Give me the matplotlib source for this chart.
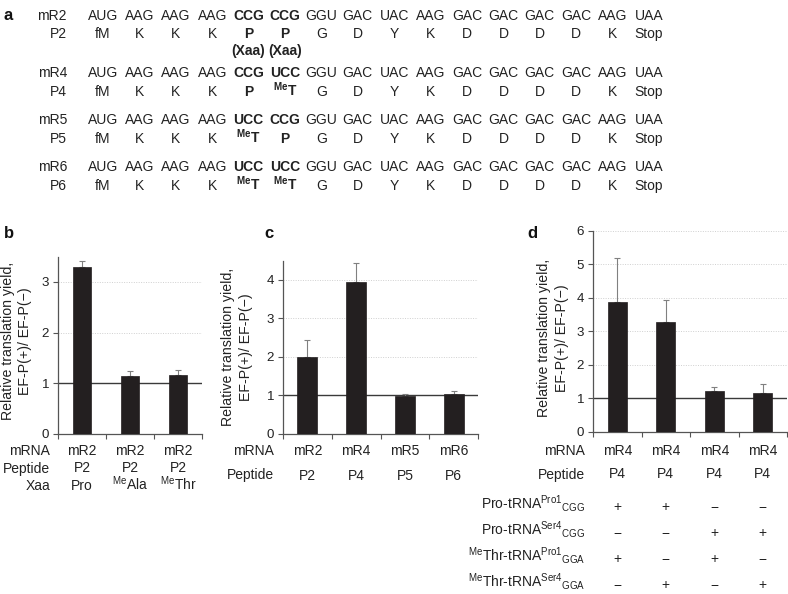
import matplotlib
matplotlib.use('Agg')
import matplotlib.pyplot as plt
import matplotlib.transforms as mtrans
import numpy as np

plt.rcParams['font.family'] = ['Liberation Sans', 'DejaVu Sans']
plt.rcParams['mathtext.fontset'] = 'custom'
plt.rcParams['mathtext.rm'] = 'Liberation Sans'
plt.rcParams['mathtext.bf'] = 'Liberation Sans:bold'
plt.rcParams['mathtext.it'] = 'Liberation Sans:italic'
plt.rcParams['mathtext.sf'] = 'Liberation Sans'

# ---------------- data ----------------
# panel a
seq_mrna = ['mR2', 'mR4', 'mR5', 'mR6']
seq_peptide = ['P2', 'P4', 'P5', 'P6']
codons_head = ['AUG', 'AAG', 'AAG', 'AAG']
codons_tail = ['GGU', 'GAC', 'UAC', 'AAG', 'GAC', 'GAC', 'GAC', 'GAC', 'AAG', 'UAA']
residues_head = ['fM', 'K', 'K', 'K']
residues_tail = ['G', 'D', 'Y', 'K', 'D', 'D', 'D', 'D', 'K', 'Stop']
var_codons = [['CCG', 'CCG'], ['CCG', 'UCC'], ['UCC', 'CCG'], ['UCC', 'UCC']]
var_residues = [['P', 'P'], ['P', 'MeT'], ['MeT', 'P'], ['MeT', 'MeT']]

# panel b
b_mrna = ['mR2', 'mR2', 'mR2']
b_peptide = ['P2', 'P2', 'P2']
b_xaa = ['Pro', 'MeAla', 'MeThr']
b_values = [3.30, 1.14, 1.17]
b_err = [0.12, 0.10, 0.09]
b_yticks = [0, 1, 2, 3]

# panel c
c_mrna = ['mR2', 'mR4', 'mR5', 'mR6']
c_peptide = ['P2', 'P4', 'P5', 'P6']
c_values = [1.99, 3.94, 0.98, 1.02]
c_err = [0.45, 0.49, 0.06, 0.09]
c_yticks = [0, 1, 2, 3, 4]

# panel d
d_mrna = ['mR4', 'mR4', 'mR4', 'mR4']
d_peptide = ['P4', 'P4', 'P4', 'P4']
d_values = [3.88, 3.27, 1.22, 1.16]
d_err = [1.30, 0.65, 0.11, 0.26]
d_yticks = [0, 1, 2, 3, 4, 5, 6]
d_trna_labels = [r'Pro-tRNA$^{\mathrm{Pro1}}{}_{\mathrm{CGG}}$',
                 r'Pro-tRNA$^{\mathrm{Ser4}}{}_{\mathrm{CGG}}$',
                 r'$^{\mathrm{Me}}$Thr-tRNA$^{\mathrm{Pro1}}{}_{\mathrm{GGA}}$',
                 r'$^{\mathrm{Me}}$Thr-tRNA$^{\mathrm{Ser4}}{}_{\mathrm{GGA}}$']
d_trna_signs = [['+', '+', '\u2212', '\u2212'],
                ['\u2212', '\u2212', '+', '+'],
                ['+', '\u2212', '+', '\u2212'],
                ['\u2212', '+', '\u2212', '+']]

ylabel_text = 'Relative translation yield,\nEF-P(+)/ EF-P(\u2212)'

# ---------------- style ----------------
W, H = 788, 594
TXT = '#222222'
BAR = '#231f20'
ERR = '#808080'
SPINE = '#555555'
FS = 10.0      # category labels
FSA = 10.0     # panel a
FST = 9.6      # tick labels
FSY = 10.2     # y labels

fig = plt.figure(figsize=(W / 100, H / 100), dpi=100)


def fx(x):
    return x / W


def fy(y):
    return 1 - y / H


def ptext(x, y, s, **kw):
    kw.setdefault('color', TXT)
    kw.setdefault('fontsize', FS)
    return fig.text(fx(x), fy(y), s, **kw)


def me(s, bold=False):
    if s.startswith('Me'):
        if bold:
            return r'$^{\mathbf{Me}}\mathbf{' + s[2:] + '}$'
        return r'$^{\mathrm{Me}}$' + s[2:]
    return s


# ---------------- panel a ----------------
ptext(4, 20, 'a', fontsize=12, fontweight='bold', va='baseline', color='#111111')
mrna_base = [20.5, 77, 124.5, 171]
pep_base = [38, 96, 143, 190]
for r in range(4):
    codons = codons_head + var_codons[r] + codons_tail
    residues = residues_head + var_residues[r] + residues_tail
    ptext(67, mrna_base[r], seq_mrna[r], ha='right', va='baseline', fontsize=FSA)
    ptext(67, pep_base[r], seq_peptide[r], ha='right', va='baseline', fontsize=FSA)
    for i, (cd, rs) in enumerate(zip(codons, residues)):
        x = 103 + 36.4 * i
        bold = 4 <= i <= 5
        ptext(x, mrna_base[r], cd, ha='center', va='baseline', fontsize=FSA,
              fontweight='bold' if bold else 'normal')
        ptext(x, pep_base[r], me(rs, bold) if bold else rs, ha='center', va='baseline',
              fontsize=FSA, fontweight='bold' if bold else 'normal')
    if r == 0:
        for i in (4, 5):
            ptext(103 + 36.4 * i, 55.5, '(Xaa)', ha='center', va='baseline',
                  fontsize=FSA, fontweight='bold')


# ---------------- bar panels ----------------
def make_axes(left, right, top, bottom, ymax, yticks, values, err, width):
    ax = fig.add_axes([fx(left), fy(bottom), (right - left) / W, (bottom - top) / H])
    n = len(values)
    x = np.arange(n)
    for t in yticks:
        if t >= 2:
            ax.axhline(t, color='#d0d0d0', lw=0.7, ls=(0, (1, 1.5)), zorder=0)
    ax.axhline(1, color='#3a3a3a', lw=1.0, zorder=1)
    ax.bar(x, values, width, color=BAR, edgecolor=BAR, lw=0.5, zorder=3)
    ax.errorbar(x, values, yerr=[np.zeros(n), err], fmt='none', ecolor=ERR,
                elinewidth=0.8, capsize=2.2, capthick=0.8, zorder=2)
    ax.set_xlim(-0.5, n - 0.5)
    ax.set_ylim(0, ymax)
    ax.set_yticks(yticks)
    ax.set_xticks(np.arange(n + 1) - 0.5)
    ax.set_xticklabels([])
    for s in ('top', 'right'):
        ax.spines[s].set_visible(False)
    for s in ('left', 'bottom'):
        ax.spines[s].set_color(SPINE)
        ax.spines[s].set_linewidth(0.9)
    ax.tick_params(axis='both', direction='out', length=3.5, width=0.8, color=SPINE,
                   labelsize=FST, labelcolor=TXT, pad=3)
    ax.set_facecolor('none')
    return ax


def row(ax, labels, ybase, **kw):
    tr = mtrans.blended_transform_factory(ax.transData, fig.transFigure)
    for i, s in enumerate(labels):
        ax.text(i, fy(ybase), s, transform=tr, ha='center', va='baseline',
                fontsize=FS, color=TXT, **kw)


YL = dict(rotation=90, ha='center', va='center', multialignment='center',
          linespacing=1.28, fontsize=FSY)

# panel b
axb = make_axes(58, 202, 256.7, 433.7, 3.5, b_yticks, b_values, b_err, 0.375)
ptext(4, 238, 'b', fontsize=12, fontweight='bold', va='baseline', color='#111111')
ptext(16.5, 341, ylabel_text, **YL)
ptext(50, 455, 'mRNA', ha='right', va='baseline')
ptext(50, 472.5, 'Peptide', ha='right', va='baseline')
ptext(50, 490, 'Xaa', ha='right', va='baseline')
row(axb, b_mrna, 455)
row(axb, b_peptide, 472.5)
row(axb, [me(s) for s in b_xaa], 490)

# panel c
axc = make_axes(283, 478, 260.7, 433.7, 4.5, c_yticks, c_values, c_err, 0.41)
ptext(264, 238, 'c', fontsize=12, fontweight='bold', va='baseline', color='#111111')
ptext(237, 347, ylabel_text, **YL)
ptext(274, 455, 'mRNA', ha='right', va='baseline')
ptext(274, 479.5, 'Peptide', ha='right', va='baseline')
row(axc, c_mrna, 455)
row(axc, c_peptide, 479.5)

# panel d
axd = make_axes(593, 787, 230.7, 431.7, 6, d_yticks, d_values, d_err, 0.40)
ptext(527, 238, 'd', fontsize=12, fontweight='bold', va='baseline', color='#111111')
ptext(553, 338, ylabel_text, **YL)
ptext(585, 455, 'mRNA', ha='right', va='baseline')
ptext(585, 478.5, 'Peptide', ha='right', va='baseline')
row(axd, d_mrna, 455)
row(axd, d_peptide, 478.5)
for k, (lab, signs) in enumerate(zip(d_trna_labels, d_trna_signs)):
    yb = 509 + 26 * k
    ptext(585, yb, lab, ha='right', va='baseline')
    row(axd, signs, yb + 2.5)

fig.savefig('out.png', dpi=100)
